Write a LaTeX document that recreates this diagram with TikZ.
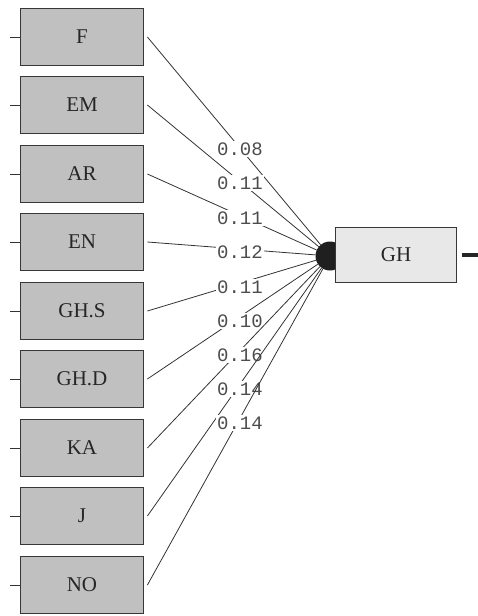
\documentclass[tikz,border=0pt]{standalone}
\usepackage{fontspec}
\setmainfont{Liberation Serif}
\newfontfamily\coeffont{Liberation Mono}
\usetikzlibrary{positioning}

\definecolor{boxgray}{RGB}{192,192,192}
\definecolor{outgray}{RGB}{232,232,232}
\definecolor{edgegray}{RGB}{55,55,55}

\begin{document}
\begin{tikzpicture}[x=1pt, y=-1pt,
    var/.style={draw=edgegray, line width=1.8pt, fill=boxgray, minimum width=123pt, minimum height=57pt, inner sep=0pt, text=black!85, font=\fontsize{21}{21}\selectfont},
    outvar/.style={var, fill=outgray, minimum width=121pt, minimum height=55pt},
    path/.style={black!80, line width=0.8pt},
    coef/.style={fill=white, inner sep=1.2pt, text=black!70, font=\coeffont\fontsize{19}{19}\selectfont}]
    % Page frame
    \useasboundingbox (0,0) rectangle (478,616);

    % Left column of predictors
    \node[var] (F)   at (82,37)  {F};
    \node[var] (EM)  at (82,105) {EM};
    \node[var] (AR)  at (82,174) {AR};
    \node[var] (EN)  at (82,242) {EN};
    \node[var] (GHS) at (82,311) {GH.S};
    \node[var] (GHD) at (82,379) {GH.D};
    \node[var] (KA)  at (82,448) {KA};
    \node[var] (J)   at (82,516) {J};
    \node[var] (NO)  at (82,585) {NO};

    % Error stubs on the left side
    \foreach \v in {F, EM, AR, EN, GHS, GHD, KA, J, NO}
        \draw[path] (\v.west) -- ++(-10,0);

    % Meeting point in front of the outcome
    \node[circle, fill=black!88, minimum size=29pt, inner sep=0pt] (hub) at (330,256) {};

    % Paths with their coefficients
    \draw[path] ([xshift=3pt]F.east)   -- (hub);
    \node[coef] (cF)   at (240,149) {0.08};
    \draw[path] ([xshift=3pt]EM.east)  -- (hub);
    \node[coef] (cEM)  at (240,183) {0.11};
    \draw[path] ([xshift=3pt]AR.east)  -- (hub);
    \node[coef] (cAR)  at (240,218) {0.11};
    \draw[path] ([xshift=3pt]EN.east)  -- (hub);
    \node[coef] (cEN)  at (240,252) {0.12};
    \draw[path] ([xshift=3pt]GHS.east) -- (hub);
    \node[coef] (cGHS) at (240,287) {0.11};
    \draw[path] ([xshift=3pt]GHD.east) -- (hub);
    \node[coef] (cGHD) at (240,321) {0.10};
    \draw[path] ([xshift=3pt]KA.east)  -- (hub);
    \node[coef] (cKA)  at (240,355) {0.16};
    \draw[path] ([xshift=3pt]J.east)   -- (hub);
    \node[coef] (cJ)   at (240,389) {0.14};
    \draw[path] ([xshift=3pt]NO.east)  -- (hub);
    \node[coef] (cNO)  at (240,423) {0.14};

    % Outcome box and its error stub
    \node[outvar] (GH) at (396,255) {GH};
    \draw[black!85, line width=3.5pt] ([xshift=5pt]GH.east) -- ++(16,0);
\end{tikzpicture}
\end{document}
